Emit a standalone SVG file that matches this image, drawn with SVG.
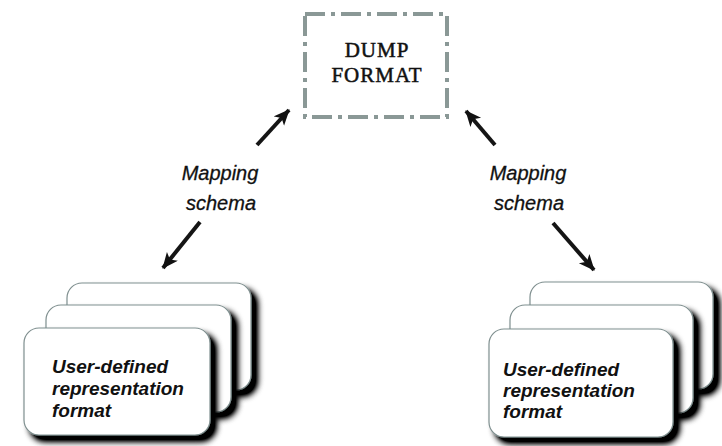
<svg xmlns="http://www.w3.org/2000/svg" width="722" height="446" viewBox="0 0 722 446">
<defs>
<filter id="sh" x="-20%" y="-20%" width="150%" height="150%">
<feGaussianBlur in="SourceAlpha" stdDeviation="3"/>
<feOffset dx="6" dy="6" result="b"/>
<feComponentTransfer in="b" result="c"><feFuncA type="linear" slope="1.4"/></feComponentTransfer>
<feMerge><feMergeNode in="c"/><feMergeNode in="SourceGraphic"/></feMerge>
</filter>
<marker id="ah" markerUnits="userSpaceOnUse" markerWidth="18" markerHeight="16" refX="15" refY="7" orient="auto">
<path d="M0,0 L16,7 L0,14 L4,7 Z" fill="#111"/>
</marker>
</defs>
<style>
.card{fill:#fff;stroke:#7f8f8f;stroke-width:1.2;filter:url(#sh)}
.ct{font-family:"Liberation Sans",Arial,sans-serif;font-weight:bold;font-style:italic;font-size:19px;fill:#111}
.lbl{font-family:"Liberation Sans",Arial,sans-serif;font-style:italic;font-size:20px;fill:#111;text-anchor:middle;stroke:#111;stroke-width:0.3}
.dump{font-family:"Liberation Serif","Times New Roman",serif;font-size:21px;letter-spacing:1px;fill:#111;stroke:#111;stroke-width:0.5;text-anchor:middle}
.arr{stroke:#151515;stroke-width:4;fill:none}
</style>
<rect width="722" height="446" fill="#fff"/>
<g id="dump">
<rect x="305" y="14" width="142" height="103" fill="#fff" stroke="#8a9896" stroke-width="4" stroke-dasharray="20 6 4 6"/>
<text class="dump" x="377" y="57">DUMP</text>
<text class="dump" x="377" y="82">FORMAT</text>
</g>
<g id="left-stack">
<rect class="card" x="67" y="283" width="184" height="107" rx="15"/>
<rect class="card" x="46" y="305" width="185" height="107" rx="15"/>
<rect class="card" x="24" y="328" width="186" height="107" rx="15"/>
<text class="ct" x="52" y="373">User-defined</text>
<text class="ct" x="52" y="395">representation</text>
<text class="ct" x="52" y="417">format</text>
</g>
<g id="right-stack">
<rect class="card" x="530" y="282" width="183" height="107" rx="15"/>
<rect class="card" x="510" y="305" width="183" height="108" rx="15"/>
<rect class="card" x="489" y="329" width="184" height="108" rx="15"/>
<text class="ct" x="503" y="376">User-defined</text>
<text class="ct" x="503" y="397">representation</text>
<text class="ct" x="503" y="418">format</text>
</g>
<g id="connectors">
<line class="arr" x1="257" y1="145" x2="289" y2="110" marker-end="url(#ah)"/>
<line class="arr" x1="200" y1="222" x2="163" y2="268" marker-end="url(#ah)"/>
<line class="arr" x1="495" y1="145" x2="466" y2="111" marker-end="url(#ah)"/>
<line class="arr" x1="553" y1="223" x2="594" y2="270" marker-end="url(#ah)"/>
<text class="lbl" x="220" y="180">Mapping</text>
<text class="lbl" x="221" y="210">schema</text>
<text class="lbl" x="528" y="180">Mapping</text>
<text class="lbl" x="529" y="210">schema</text>
</g>
</svg>
